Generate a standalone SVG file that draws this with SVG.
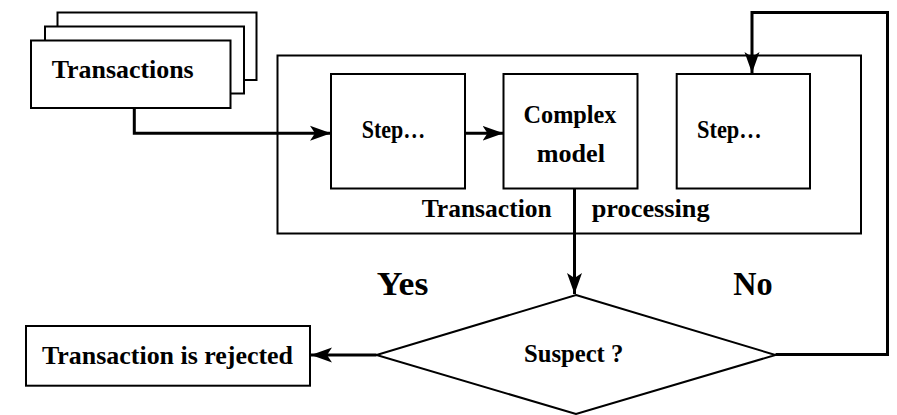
<svg xmlns="http://www.w3.org/2000/svg" width="897" height="415" viewBox="0 0 897 415">
  <style>
    .box { fill: #ffffff; stroke: #000000; stroke-width: 2; }
    .wire { fill: none; stroke: #000000; stroke-width: 3; }
    .label { font-family: "Liberation Serif", "Times New Roman", serif; font-weight: bold; font-size: 25px; fill: #000000; }
    .big { font-size: 33px; }
  </style>
  <defs>
    <marker id="arrow" markerUnits="userSpaceOnUse" markerWidth="22" markerHeight="16" viewBox="-21 -8 22 16" refX="0" refY="0" orient="auto">
      <path d="M0,0 L-21,-7.5 L-16,0 L-21,7.5 Z" fill="#000000"/>
    </marker>
  </defs>

  <rect width="897" height="415" fill="#ffffff"/>

  <!-- stacked input documents -->
  <g id="transactions">
    <rect class="box" x="57.5" y="12.5" width="199" height="67.5"/>
    <rect class="box" x="45" y="26.5" width="199" height="67"/>
    <rect class="box" x="31" y="40.5" width="199.5" height="67.5"/>
    <text class="label" x="51.7" y="78.3" textLength="142" lengthAdjust="spacingAndGlyphs">Transactions</text>
  </g>

  <!-- processing container -->
  <g id="processing">
    <rect class="box" x="277.5" y="55.5" width="583.5" height="178"/>
    <text class="label" x="421.7" y="217.3" textLength="130" lengthAdjust="spacingAndGlyphs">Transaction</text>
    <text class="label" x="591.7" y="216.5" textLength="118" lengthAdjust="spacingAndGlyphs">processing</text>
  </g>

  <g id="step-first">
    <rect class="box" x="331" y="74" width="134" height="114.5"/>
    <text class="label" x="361.7" y="138" textLength="63.5" lengthAdjust="spacingAndGlyphs">Step…</text>
  </g>

  <g id="complex-model">
    <rect class="box" x="503.5" y="74" width="134" height="114.5"/>
    <text class="label" x="523.5" y="123.3" textLength="93" lengthAdjust="spacingAndGlyphs">Complex</text>
    <text class="label" x="536.7" y="161.7" textLength="68.3" lengthAdjust="spacingAndGlyphs">model</text>
  </g>

  <g id="step-last">
    <rect class="box" x="676.7" y="74" width="133.3" height="114.5"/>
    <text class="label" x="697" y="137.5" textLength="64.7" lengthAdjust="spacingAndGlyphs">Step…</text>
  </g>

  <g id="suspect">
    <polygon class="box" points="576,295 775.5,355 576,414 376.5,355"/>
    <text class="label" x="524" y="361.7" textLength="99.3" lengthAdjust="spacingAndGlyphs">Suspect ?</text>
  </g>

  <g id="rejected">
    <rect class="box" x="26" y="326" width="284" height="59.7"/>
    <text class="label" x="42" y="364" textLength="251" lengthAdjust="spacingAndGlyphs">Transaction is rejected</text>
  </g>

  <!-- branch labels -->
  <g id="branch-labels">
    <text class="label big" x="376.7" y="295" textLength="51.6" lengthAdjust="spacingAndGlyphs">Yes</text>
    <text class="label big" x="733.3" y="295" textLength="39.4" lengthAdjust="spacingAndGlyphs">No</text>
  </g>

  <!-- connectors -->
  <g id="connectors">
    <path class="wire" d="M134.3,108 V133.3 H331" marker-end="url(#arrow)"/>
    <path class="wire" d="M465,133.3 H503.5" marker-end="url(#arrow)"/>
    <path class="wire" d="M574.5,188.5 V294" marker-end="url(#arrow)"/>
    <path class="wire" d="M376.5,355 H311" marker-end="url(#arrow)"/>
    <path class="wire" d="M775.5,354.5 H887.5 V12.5 H752 V73" stroke-width="3.5" marker-end="url(#arrow)"/>
  </g>
</svg>
